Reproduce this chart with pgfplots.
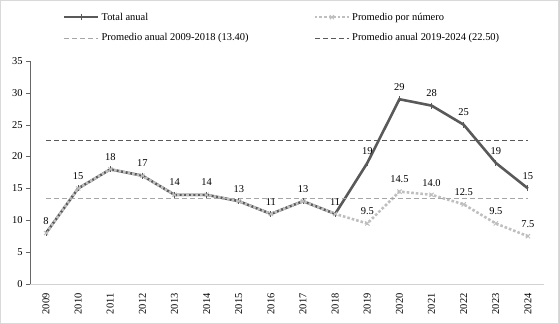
\documentclass[border=0pt]{standalone}
\usepackage{pgfplots}
\pgfplotsset{compat=1.18}
\usepackage{fontspec}
\setmainfont{Liberation Serif}
\definecolor{dk}{HTML}{595959}
\definecolor{lt}{HTML}{BFBFBF}
\definecolor{md}{HTML}{A6A6A6}
\begin{document}
\begin{tikzpicture}
\useasboundingbox (0,0) rectangle (559bp,324bp);
\draw[gray!30, line width=0.8pt] (0.5bp,0.5bp) rectangle (558.5bp,323.5bp);
\begin{axis}[
  at={(30bp,40bp)}, anchor=south west,
  width=514bp, height=223bp, scale only axis,
  xmin=2008.5, xmax=2024.5, ymin=0, ymax=35,
  xtick={2009,...,2024}, ytick={0,5,...,35},
  axis x line*=bottom, axis y line*=left,
  x axis line style={draw=gray!35, line width=0.8pt},
  y axis line style={draw=gray!80!black},
  xtick style={draw=none},
  ytick style={draw=gray!80!black},
  tick align=outside, major tick length=4bp,
  /pgf/number format/assume math mode=true,
  /pgf/number format/1000 sep={},
  tick label style={font=\fontsize{10.5}{12}\selectfont},
  x tick label style={rotate=90, anchor=east, xshift=-2bp},
  every node near coord/.append style={font=\fontsize{10.5}{12}\selectfont, text=black, yshift=5bp},
  legend columns=2,
  legend cell align=left,
  legend style={draw=none, fill=none, at={(0.058,1.235)}, anchor=north west,
    font=\fontsize{10.5}{12}\selectfont, row sep=8bp,
    /tikz/every even column/.append style={column sep=63bp}},
  legend image code/.code={\draw[mark repeat=2,mark phase=2,#1] plot coordinates {(0cm,0cm) (0.6cm,0cm) (1.2cm,0cm)};},
]
\addplot[dk, line width=2.6pt, mark=|, mark size=3pt, mark options={solid, line width=1pt},
  nodes near coords, point meta=explicit,
  nodes near coords={\pgfmathprintnumber[fixed,precision=0]{\pgfplotspointmeta}}]
  table[meta=y] {
x y
2009 8
2010 15
2011 18
2012 17
2013 14
2014 14
2015 13
2016 11
2017 13
2018 11
2019 19
2020 29
2021 28
2022 25
2023 19
2024 15
};
\addlegendentry{Total anual}
\addplot[lt, line width=2.6pt, dotted, mark=x, mark size=3pt, mark options={solid, line width=1pt}]
  table {
x y
2009 8
2010 15
2011 18
2012 17
2013 14
2014 14
2015 13
2016 11
2017 13
2018 11
2019 9.5
2020 14.5
2021 14.0
2022 12.5
2023 9.5
2024 7.5
};
\addlegendentry{Promedio por número}
\addplot[md, dashed, line width=0.8pt, dash pattern=on 5bp off 3bp] coordinates {(2009,13.4) (2024,13.4)};
\addlegendentry{Promedio anual 2009-2018 (13.40)}
\addplot[dk, dashed, line width=0.8pt, dash pattern=on 5bp off 3bp] coordinates {(2009,22.5) (2024,22.5)};
\addlegendentry{Promedio anual 2019-2024 (22.50)}
\addplot[draw=none, forget plot, nodes near coords, point meta=explicit,
  nodes near coords={\pgfmathprintnumber[fixed,fixed zerofill,precision=1]{\pgfplotspointmeta}}]
  table[meta=y] {
x y
2019 9.5
2020 14.5
2021 14.0
2022 12.5
2023 9.5
2024 7.5
};
\end{axis}
\end{tikzpicture}
\end{document}
